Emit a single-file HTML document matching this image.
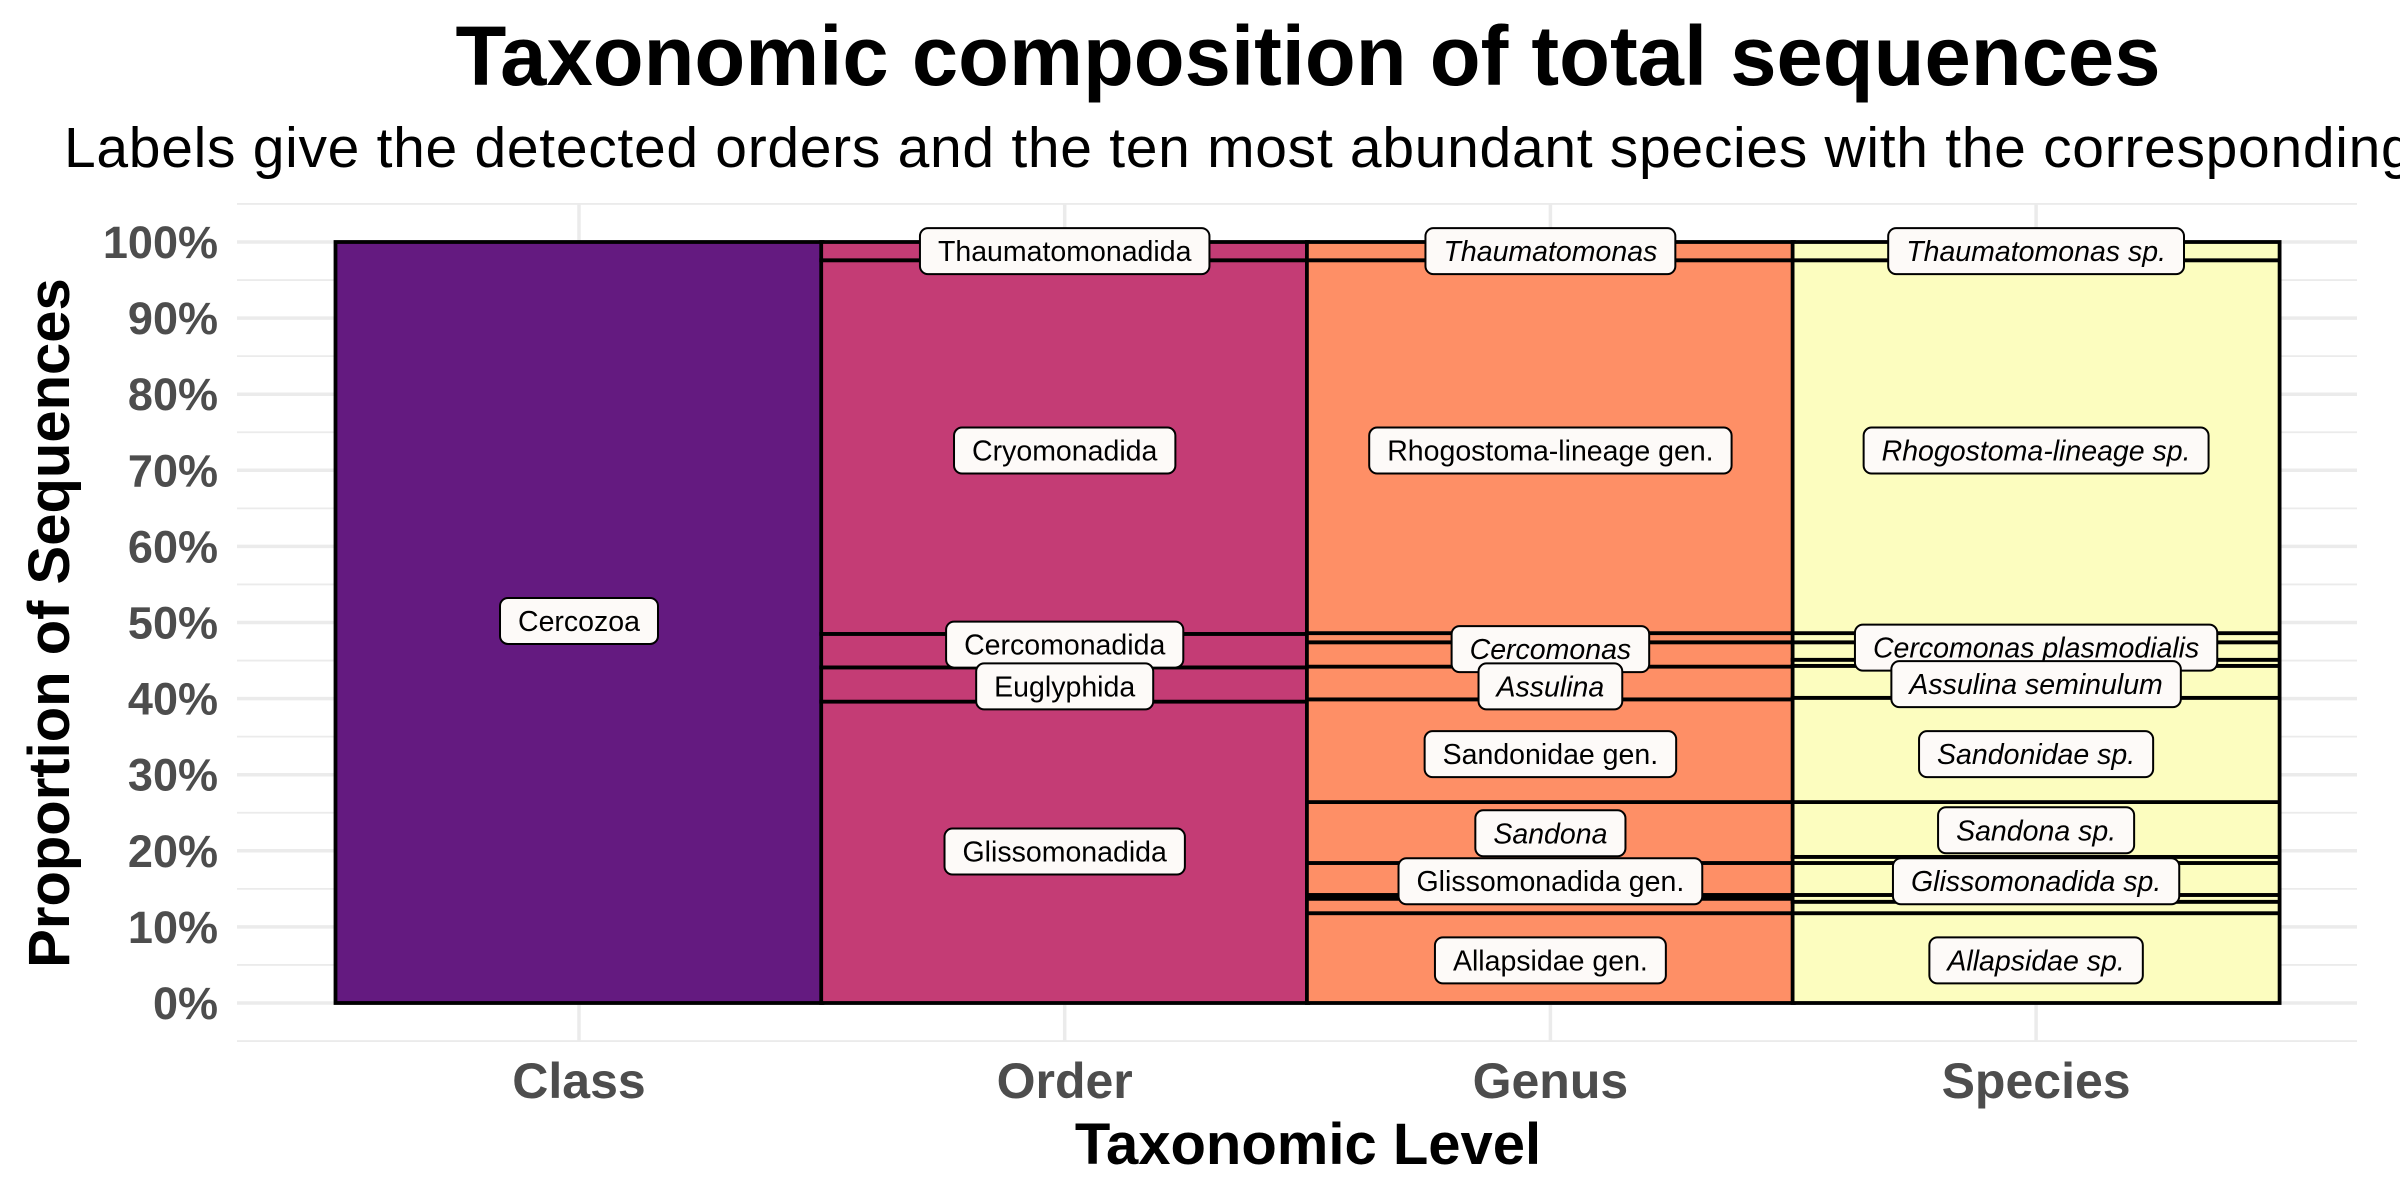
<!DOCTYPE html>
<html><head><meta charset="utf-8"><style>
html,body{margin:0;padding:0;background:#fff;width:2400px;height:1200px;overflow:hidden}
svg{display:block;font-family:"Liberation Sans",sans-serif}
</style></head><body>
<svg id="chart" width="2400" height="1200" viewBox="0 0 2400 1200" xmlns="http://www.w3.org/2000/svg">
<text x="1308" y="85" text-anchor="middle" font-size="84" font-weight="bold" fill="#000" textLength="1705" lengthAdjust="spacingAndGlyphs">Taxonomic composition of total sequences</text>
<text x="64" y="167" font-size="57" letter-spacing="0.7" fill="#000">Labels give the detected orders and the ten most abundant species with the corresponding genera.</text>
<g id="grid"></g>
<g id="bars"></g>
<g id="labels"></g>
<g id="axes"></g>
<text x="1308" y="1164" text-anchor="middle" font-size="58" font-weight="bold" fill="#000">Taxonomic Level</text>
<text transform="translate(69,623) rotate(-90)" text-anchor="middle" font-size="58" font-weight="bold" fill="#000">Proportion of Sequences</text>
</svg>
<script>
const categories = ["Class","Order","Genus","Species"];
const levelColors = ["#641a80","#c43c75","#fe8f66","#fcfdbf"];
// segment boundaries (percent) per level, bottom to top
const classBreaks = [0,100];
const orderBreaks = [0,39.6,44.1,48.5,97.6,100];
const genusBreaks = [0,11.8,13.7,14.2,18.4,26.4,39.9,44.2,47.4,48.6,97.6,100];
const speciesBreaks = [0,11.8,13.3,14.2,18.4,19.2,26.4,40.1,44.3,45.1,47.4,48.6,97.6,100];
const yTicks = [0,10,20,30,40,50,60,70,80,90,100];
const yTickLabels = ["0%","10%","20%","30%","40%","50%","60%","70%","80%","90%","100%"];
// labels: level index, y position (percent), text, italic
const labelLevels = [0,1,1,1,1,1,2,2,2,2,2,2,2,2,3,3,3,3,3,3,3,3];
const labelY = [50.2,98.8,72.6,47.1,41.6,19.9,98.8,72.6,46.5,41.6,32.7,22.3,16.0,5.6,98.8,72.6,46.7,41.9,32.7,22.7,16.0,5.6];
const labelText = ["Cercozoa","Thaumatomonadida","Cryomonadida","Cercomonadida","Euglyphida","Glissomonadida","Thaumatomonas","Rhogostoma-lineage gen.","Cercomonas","Assulina","Sandonidae gen.","Sandona","Glissomonadida gen.","Allapsidae gen.","Thaumatomonas sp.","Rhogostoma-lineage sp.","Cercomonas plasmodialis","Assulina seminulum","Sandonidae sp.","Sandona sp.","Glissomonadida sp.","Allapsidae sp."];
const labelItalic = [0,0,0,0,0,0,1,0,1,1,0,1,0,0,1,1,1,1,1,1,1,1];

const NS="http://www.w3.org/2000/svg";
const panel={x0:237,x1:2357,y0:204,y1:1041};
const xCenter=i=>579+i*485.7;
const barW=487;
const yScale=v=>1003-v*7.61;
function mk(tag,attrs,parent){const e=document.createElementNS(NS,tag);for(const k in attrs)e.setAttribute(k,attrs[k]);parent.appendChild(e);return e;}
const grid=document.getElementById('grid'),bars=document.getElementById('bars'),labs=document.getElementById('labels'),axes=document.getElementById('axes');
for(let v=-5;v<=105;v+=5){const y=yScale(v);if(y<panel.y0-1||y>panel.y1+1)continue;
 const l=mk('line',{x1:panel.x0,x2:panel.x1,y1:y,y2:y,stroke:'#ebebeb','stroke-width':v%10===0?3.5:1.8},grid);
 
 }
categories.forEach((c,i)=>{const l=mk('line',{x1:xCenter(i),x2:xCenter(i),y1:panel.y0,y2:panel.y1,stroke:'#ebebeb','stroke-width':3.5},grid);
 
 });
const allBreaks=[classBreaks,orderBreaks,genusBreaks,speciesBreaks];
allBreaks.forEach((br,i)=>{
 for(let k=0;k<br.length-1;k++){
  const yTop=yScale(br[k+1]),yBot=yScale(br[k]);
  const r=mk('rect',{x:xCenter(i)-barW/2,y:yTop,width:barW,height:yBot-yTop,fill:levelColors[i],stroke:'#000','stroke-width':3.8},bars);
  
  
 }
});
labelText.forEach((t,j)=>{
 const g=mk('g',{},labs);
 
 
 const cx=xCenter(labelLevels[j]),cy=yScale(labelY[j]);
 const tx=mk('text',{x:cx,y:cy+10,'text-anchor':'middle','font-size':28.5,'font-style':labelItalic[j]?'italic':'normal',fill:'#000'},g);
 tx.textContent=t;
 const w=tx.getComputedTextLength()+36;
 const r=mk('rect',{x:cx-w/2,y:cy-23,width:w,height:46,rx:8,ry:8,fill:'#fdfaf8',stroke:'#000','stroke-width':2},g);
 g.insertBefore(r,tx);
});
yTicks.forEach((v,k)=>{const t=mk('text',{x:218,y:yScale(v)+16,'text-anchor':'end','font-size':45,'font-weight':'bold',fill:'#4d4d4d'},axes);
 t.textContent=yTickLabels[k];
 
 });
categories.forEach((c,i)=>{const t=mk('text',{x:xCenter(i),y:1098,'text-anchor':'middle','font-size':50,'font-weight':'bold',fill:'#4d4d4d'},axes);
 t.textContent=c;
 
 });
</script>
</body></html>
